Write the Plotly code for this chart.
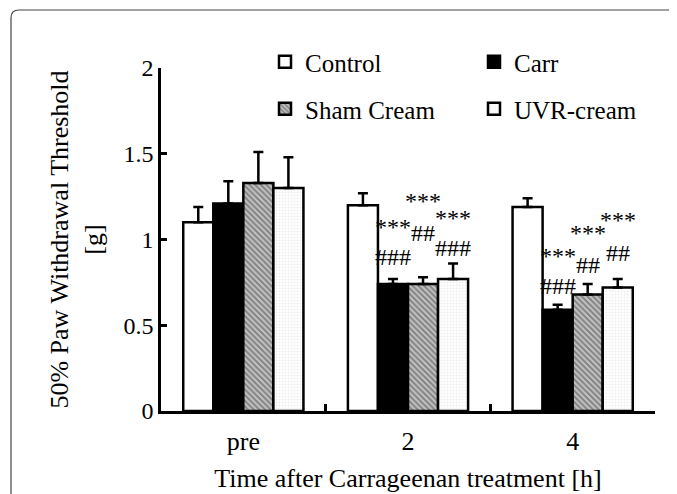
import plotly.graph_objects as go

times = ["pre", "2", "4"]
groups = ["Control", "Carr", "Sham Cream", "UVR-cream"]

means = {
    "Control":    [1.10, 1.20, 1.19],
    "Carr":       [1.21, 0.74, 0.59],
    "Sham Cream": [1.33, 0.74, 0.68],
    "UVR-cream":  [1.30, 0.77, 0.72],
}
errs = {
    "Control":    [0.09, 0.07, 0.05],
    "Carr":       [0.13, 0.03, 0.03],
    "Sham Cream": [0.18, 0.04, 0.06],
    "UVR-cream":  [0.18, 0.09, 0.05],
}

# significance marks: (time index, group, text, y)
sig_marks = [
    (1, "Carr", "***", 1.07), (1, "Carr", "###", 0.90),
    (1, "Sham Cream", "***", 1.225), (1, "Sham Cream", "##", 1.04),
    (1, "UVR-cream", "***", 1.125), (1, "UVR-cream", "###", 0.95),
    (2, "Carr", "***", 0.905), (2, "Carr", "###", 0.73),
    (2, "Sham Cream", "***", 1.04), (2, "Sham Cream", "##", 0.85),
    (2, "UVR-cream", "***", 1.115), (2, "UVR-cream", "##", 0.92),
]

styles = {
    "Control":    dict(color="white"),
    "Carr":       dict(color="black"),
    "Sham Cream": dict(color="#c4c4c4", pattern=dict(shape="\\", fgcolor="#404040", size=4, solidity=0.5)),
    "UVR-cream":  dict(color="white", pattern=dict(shape="+", fgcolor="#d8d8d8", size=3, solidity=0.3)),
}
legend_of = {"Control": "legend", "Carr": "legend", "Sham Cream": "legend2", "UVR-cream": "legend2"}

FONT = "Liberation Serif"
W, H = 677, 494
OFF = 8  # page body margin
ML, MR, MT, MB = 161 - OFF, 22 + OFF, 68 - OFF, 83 + OFF
BARGAP = 0.27

def f(size):
    return dict(family=FONT, size=size, color="black")

fig = go.Figure()
for g in groups:
    fig.add_trace(go.Bar(
        x=times, y=means[g], name=g,
        legend=legend_of[g],
        marker=dict(line=dict(color="black", width=2.5), **styles[g]),
        error_y=dict(type="data", symmetric=False, array=errs[g],
                     arrayminus=[0] * len(times), color="black", thickness=2.5, width=5),
    ))

bw = (1 - BARGAP) / len(groups)
for ti, g, txt, y in sig_marks:
    gi = groups.index(g)
    fig.add_annotation(x=ti + (gi - 1.5) * bw, y=y, text=txt, showarrow=False,
                       xanchor="center", yanchor="middle", font=f(24))

# rounded frame around the figure (window pixel -> paper coords)
pw, ph = W - ML - MR, H - MT - MB
def px(x): return (x - OFF - ML) / pw
def py(y): return (H - MB - (y - OFF)) / ph
r = 8
path = (f"M {px(11)},{py(520)} L {px(11)},{py(10 + r)} "
        f"Q {px(11)},{py(10)} {px(11 + r)},{py(10)} L {px(700)},{py(10)}")
fig.add_shape(type="path", xref="paper", yref="paper", path=path,
              line=dict(color="#444444", width=1.2))

leg = dict(orientation="h", xref="container", yref="container",
           xanchor="left", yanchor="middle",
           entrywidth=164, entrywidthmode="pixels",
           font=f(25), bgcolor="rgba(0,0,0,0)")

fig.update_layout(
    width=W, height=H,
    margin=dict(l=ML, r=MR, t=MT, b=MB, autoexpand=False),
    plot_bgcolor="white", paper_bgcolor="white",
    barmode="group", bargap=BARGAP, bargroupgap=0,
    font=f(24),
    xaxis=dict(showline=True, linecolor="black", linewidth=2.5,
               ticks="inside", ticklen=7, tickwidth=2.5, tickcolor="black",
               tickson="boundaries", tickfont=f(26), ticklabelstandoff=5,
               title=dict(text="Time after Carrageenan treatment [h]", font=f(26), standoff=14)),
    yaxis=dict(range=[0, 2], dtick=0.5, showline=True, linecolor="black", linewidth=2.5,
               ticks="inside", ticklen=6, tickwidth=2.5, tickcolor="black",
               showgrid=False, zeroline=False, tickfont=f(24),
               title=dict(text="50% Paw Withdrawal Threshold<br>[g]", font=f(26), standoff=14)),
    legend=dict(leg, x=(265 - OFF) / W, y=1 - (62 - OFF) / H),
    legend2=dict(leg, x=(265 - OFF) / W, y=1 - (109 - OFF) / H),
)

fig.write_html("out.html")
